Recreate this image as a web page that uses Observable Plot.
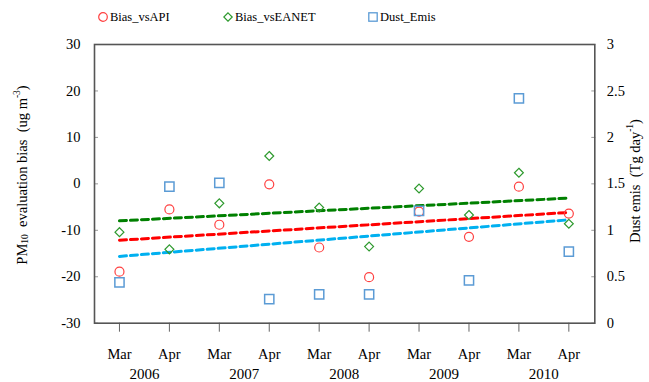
<!DOCTYPE html>
<html><head><meta charset="utf-8">
<script src="https://cdn.jsdelivr.net/npm/d3@7"></script>
<script src="https://cdn.jsdelivr.net/npm/@observablehq/plot@0.6"></script>
<style>
body{margin:0;background:#fff;font-family:"Liberation Serif","Times New Roman",serif;}
#legend{position:relative;height:30px;width:649px;font-size:12.5px;color:#000;font-family:"Liberation Serif",serif;}
.item{position:absolute;top:2px;height:30px;display:flex;align-items:center;white-space:nowrap;}
.item svg{margin-right:1px;}
#chart svg, #chart svg text{font-family:"Liberation Serif","Times New Roman",serif !important;}
</style></head><body>
<div id="legend"></div>
<div id="chart"></div>
<script>
// ---- data ----
const months = ["Mar","Apr","Mar","Apr","Mar","Apr","Mar","Apr","Mar","Apr"];
const years = ["2006","2007","2008","2009","2010"];
const biasVsAPI   = [-18.9, -5.5, -8.8, -0.1, -13.7, -20.1, -6.0, -11.4, -0.6, -6.4];
const biasVsEANET = [-10.4, -14.1, -4.2, 6.0, -5.1, -13.5, -1.0, -6.7, 2.4, -8.6];
const dustEmis    = [0.44, 1.47, 1.51, 0.26, 0.31, 0.31, 1.21, 0.46, 2.42, 0.77];
const biasTicks = [-30, -20, -10, 0, 10, 20, 30];
const dustTicks = [0, 0.5, 1, 1.5, 2, 2.5, 3];
const seriesNames = ["Bias_vsAPI", "Bias_vsEANET", "Dust_Emis"];
const leftTitle = ["PM", "10", "  evaluation bias  (ug m", "-3", ")"];
const rightTitle = ["Dust emis  (Tg day", "-1", ")"];

// ---- styles ----
const markerColors = ["#ff4040", "#2e9a2e", "#5b9bd5"];
const trendColors = ["#ff0000", "#008000", "#00b0f0"];

// secondary axis: dust -> bias units
const dustToBias = d3.scaleLinear().domain(d3.extent(dustTicks)).range(d3.extent(biasTicks));

const idx = months.map((m, i) => i + 1);
const rows = idx.map((i, k) => ({i, api: biasVsAPI[k], eanet: biasVsEANET[k], dust: dustToBias(dustEmis[k])}));
const yearCenters = years.map((y, k) => 2 * k + 1.5);

// ---- legend ----
const legend = document.getElementById("legend");
const legendX = [98, 223, 368];
const icons = [
  `<circle cx="5" cy="5" r="4.3" fill="none" stroke="${markerColors[0]}" stroke-width="1.2"/>`,
  `<path d="M5,0.8 L9.2,5 L5,9.2 L0.8,5Z" fill="none" stroke="${markerColors[1]}" stroke-width="1.2"/>`,
  `<rect x="0.8" y="0.8" width="8.4" height="8.4" fill="none" stroke="${markerColors[2]}" stroke-width="1.3"/>`
];
seriesNames.forEach((n, k) => {
  const d = document.createElement("div");
  d.className = "item";
  d.style.left = legendX[k] + "px";
  d.innerHTML = `<svg width="11" height="10">${icons[k]}</svg><span>${n}</span>`;
  legend.appendChild(d);
});

// ---- chart ----
const W = 649, H = 352;
const dash = {strokeWidth: 3, strokeDasharray: "7,4", ci: 0};
const fmt = d => String(+d3.format(".2~f")(d));
const plot = Plot.plot({
  width: W, height: H,
  marginTop: 14, marginBottom: 59.3, marginLeft: 94, marginRight: 54.7,
  style: {fontFamily: "'Liberation Serif', 'Times New Roman', serif", fontSize: "14px", color: "#000", background: "#fff"},
  x: {domain: [0.5, 10.52], axis: null},
  y: {domain: d3.extent(biasTicks), axis: null},
  marks: [
    Plot.axisY({ticks: biasTicks, tickSize: -4, stroke: "#999", tickFormat: () => "", label: null}),
    Plot.axisY({anchor: "right", ticks: biasTicks, tickSize: -4, stroke: "#999", tickFormat: () => "", label: null}),
    Plot.axisY({ticks: biasTicks, tickSize: 0, tickPadding: 14, fontSize: 14.5, label: null, tickFormat: d => String(d)}),
    Plot.axisY({anchor: "right", ticks: biasTicks, tickSize: 0, tickPadding: 12, fontSize: 14.5, label: null,
      tickFormat: d => fmt(dustToBias.invert(d))}),
    Plot.axisX({ticks: idx, tickSize: 9, tickPadding: 17, stroke: "#666", fontSize: 14.5, label: null,
      tickFormat: i => months[i - 1]}),
    Plot.axisX({ticks: yearCenters, tickSize: 0, tickPadding: 44.7, fontSize: 15, label: null,
      tickFormat: c => years[(c - 1.5) / 2]}),
    Plot.linearRegressionY(rows, {x: "i", y: "eanet", stroke: trendColors[1], ...dash}),
    Plot.linearRegressionY(rows, {x: "i", y: "api", stroke: trendColors[0], ...dash}),
    Plot.linearRegressionY(rows, {x: "i", y: "dust", stroke: trendColors[2], ...dash}),
    Plot.dot(rows, {x: "i", y: "api", r: 4.5, stroke: markerColors[0], strokeWidth: 1.2, fill: "none"}),
    Plot.dot(rows, {x: "i", y: "eanet", symbol: "diamond2", r: 4, stroke: markerColors[1], strokeWidth: 1.2, fill: "none"}),
    Plot.dot(rows, {x: "i", y: "dust", symbol: "square", r: 5.2, stroke: markerColors[2], strokeWidth: 1.5, fill: "none"}),
    Plot.frame({stroke: "#555", strokeWidth: 1.6})
  ]
});
document.getElementById("chart").appendChild(plot);

// axis titles with sub/superscripts
const svg = d3.select(plot);
function title(parts, tx, ty, subIdx, supIdx) {
  const t = svg.append("text")
    .attr("transform", `translate(${tx},${ty}) rotate(-90)`)
    .attr("text-anchor", "middle")
    .attr("dominant-baseline", "central")
    .style("white-space", "pre")
    .style("font-size", "14.5px")
    .attr("fill", "#000");
  let shift = 0;
  parts.forEach((p, k) => {
    const s = t.append("tspan").text(p);
    let target = 0;
    if (k === subIdx) { s.attr("font-size", "9.5px"); target = 3; }
    if (k === supIdx) { s.attr("font-size", "9.5px"); target = -5; }
    s.attr("dy", target - shift);
    shift = target;
  });
}
title(leftTitle, 22, 145, 1, 3);
title(rightTitle, 635, 151, -1, 1);
</script>
</body></html>
